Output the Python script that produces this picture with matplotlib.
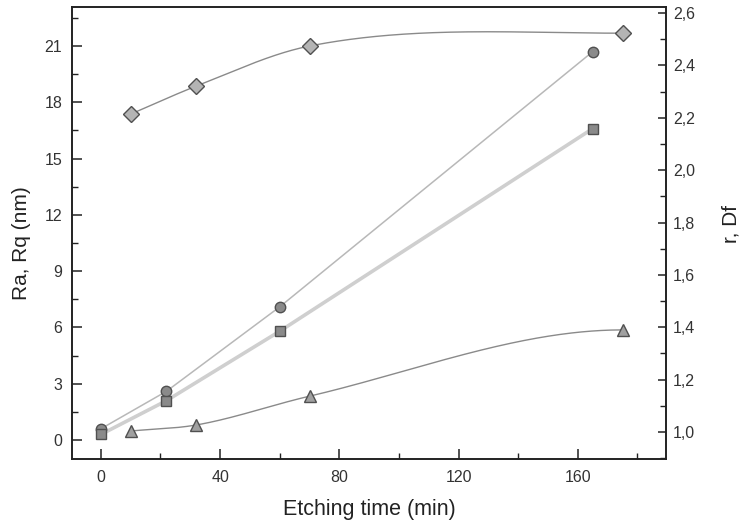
import numpy as np
import matplotlib
matplotlib.use("Agg")
import matplotlib.pyplot as plt
from matplotlib.ticker import MultipleLocator, FuncFormatter

plt.rcParams['font.family'] = ['Liberation Sans', 'DejaVu Sans']

# Roughness parameters (left axis, nm)
t_rough = [0, 22, 60, 165]
rq_vals = [0.6, 2.6, 7.1, 20.7]
ra_vals = [0.3, 2.1, 5.8, 16.6]

# Surface ratio r and fractal dimension Df (right axis)
t_df = [10, 32, 70, 175]
df_vals = [2.214, 2.321, 2.474, 2.523]
t_r = [10, 32, 70, 175]
r_vals = [1.004, 1.027, 1.137, 1.39]


def smooth_curve(x, y, num=300):
    """Cubic Hermite curve: interior slopes from averaged secants,
    secant slope at the start, flat at the end."""
    x = np.asarray(x, float)
    y = np.asarray(y, float)
    n = len(x)
    h = np.diff(x)
    delta = np.diff(y) / h
    d = np.zeros(n)
    d[0] = delta[0]
    d[1:-1] = 0.5 * (delta[:-1] + delta[1:])
    d[-1] = 0.0
    xs = np.linspace(x[0], x[-1], num)
    idx = np.clip(np.searchsorted(x, xs) - 1, 0, n - 2)
    hh = h[idx]
    t = (xs - x[idx]) / hh
    h00 = 1 - 3 * t**2 + 2 * t**3
    h10 = t * (1 - t) ** 2
    h01 = 3 * t**2 - 2 * t**3
    h11 = t**2 * (t - 1)
    ys = h00 * y[idx] + h10 * hh * d[idx] + h01 * y[idx + 1] + h11 * hh * d[idx + 1]
    return xs, ys


fig = plt.figure(figsize=(7.42, 5.27), dpi=100)
ax = fig.add_axes([0.097, 0.129, 0.8006, 0.8577])
ax2 = ax.twinx()

# Left axis: Rq (circles) and Ra (squares)
ax.plot(t_rough, ra_vals, '-', color='#cfcfcf', lw=2.6, zorder=2)
ax.plot(t_rough, rq_vals, '-', color='#b8b8b8', lw=1.1, zorder=2)
ax.plot(t_rough, rq_vals, 'o', ms=7.5, mfc='#8a8a8a', mec='#505050', mew=1.0, zorder=4)
ax.plot(t_rough, ra_vals, 's', ms=6.5, mfc='#8a8a8a', mec='#505050', mew=1.0, zorder=4)

# Right axis: Df (diamonds) and r (triangles) with smooth curves
xs, ys = smooth_curve(t_df, df_vals)
ax2.plot(xs, ys, '-', color='#8a8a8a', lw=1.0, zorder=2)
xs, ys = smooth_curve(t_r, r_vals)
ax2.plot(xs, ys, '-', color='#8a8a8a', lw=1.0, zorder=2)
ax2.plot(t_df, df_vals, 'D', ms=8, mfc='#b4b4b4', mec='#505050', mew=1.0, zorder=4)
ax2.plot(t_r, r_vals, '^', ms=8.5, mfc='#a0a0a0', mec='#505050', mew=1.0, zorder=4)

ax.set_xlim(-9.7, 189.6)
ax.set_ylim(-1.01, 23.08)
ax2.set_ylim(0.897, 2.623)

ax.xaxis.set_major_locator(MultipleLocator(40))
ax.xaxis.set_minor_locator(MultipleLocator(20))
ax.yaxis.set_major_locator(MultipleLocator(3))
ax.yaxis.set_minor_locator(MultipleLocator(1.5))
ax2.yaxis.set_major_locator(MultipleLocator(0.2))
ax2.yaxis.set_minor_locator(MultipleLocator(0.1))
ax2.yaxis.set_major_formatter(FuncFormatter(lambda v, p: f"{v:.1f}".replace('.', ',')))

for a in (ax, ax2):
    for s in a.spines.values():
        s.set_linewidth(1.2)
        s.set_color('#222222')

ax.tick_params(axis='both', which='major', direction='in', length=7, width=1.1,
               labelsize=11.5, colors='#222222', labelcolor='#333333')
ax.tick_params(axis='both', which='minor', direction='in', length=4.5, width=1.0, colors='#222222')
ax.tick_params(axis='y', which='major', pad=7)
ax.tick_params(axis='x', which='major', pad=8)
ax.tick_params(axis='y', right=False)
ax2.tick_params(axis='y', which='major', direction='in', length=6, width=1.1,
                labelsize=11.5, pad=5, colors='#222222', labelcolor='#333333')
ax2.tick_params(axis='y', which='minor', direction='in', length=4, width=1.0, colors='#222222')

ax.set_xlabel('Etching time (min)', fontsize=15.5, color='#222222', labelpad=10)
ax.set_ylabel('Ra, Rq (nm)', fontsize=15, color='#222222')
ax2.set_ylabel('r, Df', fontsize=15, color='#222222')
ax.yaxis.set_label_coords(-0.069, 0.478)
ax2.yaxis.set_label_coords(1.093, 0.520)

fig.savefig('out.png', dpi=100)
